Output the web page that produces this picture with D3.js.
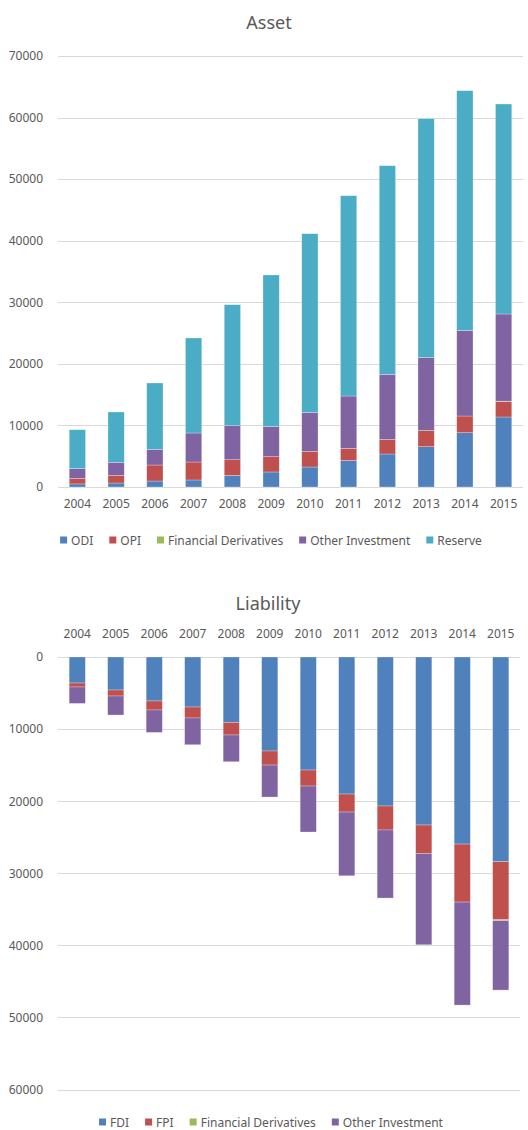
<!DOCTYPE html>
<html>
<head>
<meta charset="utf-8">
<script src="https://cdn.jsdelivr.net/npm/d3@7"></script>
<style>
  body { margin: 0; background: #fff; }
  text { font-family: "Noto Sans", sans-serif; fill: #595959; }
</style>
</head>
<body>
<div id="fig"></div>
<script>
let years = ['2004', '2005', '2006', '2007', '2008', '2009', '2010', '2011', '2012', '2013', '2014', '2015'];

// Asset (100 million USD)
let odi = [500, 650, 970, 1140, 1880, 2440, 3250, 4320, 5360, 6550, 8820, 11370];
let opi = [900, 1230, 2600, 2920, 2550, 2480, 2530, 1950, 2370, 2640, 2710, 2530];
let assetDeriv = [0, 0, 0, 0, 0, 0, 0, 0, 0, 0, 0, 40];
let assetOther = [1600, 2120, 2540, 4710, 5530, 4920, 6340, 8510, 10560, 11860, 13900, 14160];
let reserve = [6300, 8180, 10780, 15430, 19650, 24590, 29020, 32530, 33890, 38770, 38940, 34100];
let assetTicks = [0, 10000, 20000, 30000, 40000, 50000, 60000, 70000];

// Liability
let fdi = [3610, 4580, 6100, 6940, 9070, 13040, 15680, 19010, 20670, 23310, 25950, 28400];
let fpi = [550, 830, 1250, 1520, 1750, 1950, 2220, 2500, 3330, 3940, 8050, 8050];
let liabDeriv = [0, 0, 0, 0, 0, 0, 0, 0, 0, 0, 0, 130];
let liabOther = [2280, 2640, 3110, 3710, 3710, 4440, 6380, 8840, 9440, 12670, 14290, 9630];
let liabTicks = [0, 10000, 20000, 30000, 40000, 50000, 60000];

let assetKeys = ['ODI', 'OPI', 'Financial Derivatives', 'Other Investment', 'Reserve'];
let liabKeys = ['FDI', 'FPI', 'Financial Derivatives', 'Other Investment'];
let colors = ['#4f81bd', '#c0504d', '#9bbb59', '#8064a2', '#4bacc6'];

let width = 528;
let height = 1130;

let svg = d3.select('#fig').append('svg')
    .attr('width', width)
    .attr('height', height);

function buildRows(keys, series) {
    return years.map((yr, i) => {
        let row = {year: yr};
        keys.forEach((k, j) => row[k] = series[j][i]);
        return row;
    });
}

function drawLegend(keys, cy) {
    let g = svg.append('g');
    let x = 0;
    keys.forEach((k, i) => {
        g.append('rect')
            .attr('x', x)
            .attr('y', cy - 3.5)
            .attr('width', 7)
            .attr('height', 7)
            .attr('fill', colors[i]);
        let t = g.append('text')
            .attr('x', x + 11)
            .attr('y', cy + 4.5)
            .attr('font-size', 12)
            .text(k);
        x += 11 + t.node().getComputedTextLength() + 16;
    });
    let total = x - 16;
    g.attr('transform', `translate(${271 - total / 2}, 0)`);
}

function drawChart(opts) {
    let rows = buildRows(opts.keys, opts.series);
    let stack = d3.stack().keys(opts.keys)(rows);

    let x = d3.scaleBand()
        .domain(years)
        .range([opts.left, opts.right])
        .paddingInner(0.58)
        .paddingOuter(0.29);

    let y = d3.scaleLinear()
        .domain([0, opts.max])
        .range(opts.yRange);

    // title
    svg.append('text')
        .attr('x', opts.titleX)
        .attr('y', opts.titleY)
        .attr('text-anchor', 'middle')
        .attr('font-size', 18)
        .text(opts.title);

    // gridlines
    svg.append('g')
        .selectAll('line')
        .data(opts.ticks)
        .join('line')
        .attr('x1', opts.left)
        .attr('x2', opts.right)
        .attr('y1', d => Math.round(y(d)) + 0.5)
        .attr('y2', d => Math.round(y(d)) + 0.5)
        .attr('stroke', '#d9d9d9')
        .attr('stroke-width', 1);

    // y axis labels
    let yAxis = svg.append('g')
        .attr('transform', `translate(${opts.left - 15}, 0)`)
        .call(d3.axisLeft(y).tickValues(opts.ticks).tickSize(0).tickPadding(0).tickFormat(d3.format('d')));
    yAxis.select('.domain').remove();
    yAxis.selectAll('text')
        .attr('font-size', 12)
        .attr('font-family', '"Noto Sans", sans-serif')
        .attr('fill', '#595959');

    // bars
    svg.append('g')
        .selectAll('g')
        .data(stack)
        .join('g')
        .attr('fill', (d, i) => colors[i])
        .selectAll('rect')
        .data(d => d)
        .join('rect')
        .attr('x', d => x(d.data.year))
        .attr('y', d => Math.min(y(d[0]), y(d[1])))
        .attr('width', x.bandwidth())
        .attr('height', d => Math.abs(y(d[1]) - y(d[0])))
        .attr('stroke', 'rgba(255,255,255,0.45)')
        .attr('stroke-width', 0.6);

    // x axis labels
    let xAxis = svg.append('g')
        .attr('transform', `translate(0, ${opts.xLabelY})`)
        .call(d3.axisBottom(x).tickSize(0).tickPadding(0));
    xAxis.select('.domain').remove();
    xAxis.selectAll('text')
        .attr('font-size', 12)
        .attr('font-family', '"Noto Sans", sans-serif')
        .attr('fill', '#595959')
        .attr('dy', '0.71em');

    drawLegend(opts.keys, opts.legendY);
}

drawChart({
    title: 'Asset',
    titleX: 269,
    titleY: 29,
    keys: assetKeys,
    series: [odi, opi, assetDeriv, assetOther, reserve],
    ticks: assetTicks,
    max: 70000,
    left: 58,
    right: 523,
    yRange: [487, 56],
    xLabelY: 499,
    legendY: 540
});

drawChart({
    title: 'Liability',
    titleX: 268,
    titleY: 610,
    keys: liabKeys,
    series: [fdi, fpi, liabDeriv, liabOther],
    ticks: liabTicks,
    max: 60000,
    left: 58,
    right: 520,
    yRange: [657, 1089.5],
    xLabelY: 629,
    legendY: 1122
});
</script>
</body>
</html>
